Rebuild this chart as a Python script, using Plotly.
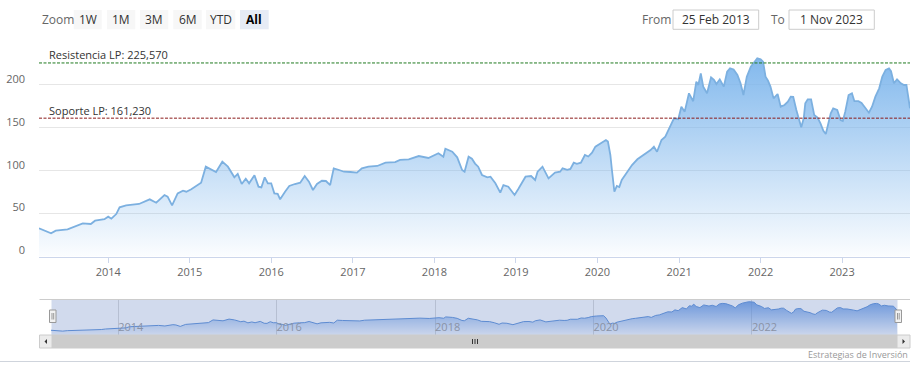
import plotly.graph_objects as go

# ---------------- data ----------------
dates = [
    "2013-02-25", "2013-04-20", "2013-05-11", "2013-07-03", "2013-09-09", "2013-10-15",
    "2013-11-03", "2013-12-15", "2014-01-01", "2014-01-15", "2014-02-06", "2014-02-21",
    "2014-03-22", "2014-04-13", "2014-05-19", "2014-07-06", "2014-08-04", "2014-09-10",
    "2014-09-24", "2014-10-14", "2014-11-08", "2014-12-02", "2014-12-17", "2015-01-08",
    "2015-02-13", "2015-02-21", "2015-03-14", "2015-03-29", "2015-04-29", "2015-05-27",
    "2015-06-21", "2015-07-20", "2015-08-04", "2015-08-22", "2015-09-09", "2015-09-24",
    "2015-10-18", "2015-11-05", "2015-11-18", "2015-12-03", "2015-12-17", "2016-01-01",
    "2016-01-15", "2016-01-30", "2016-02-10", "2016-03-03", "2016-03-22", "2016-04-16",
    "2016-05-10", "2016-05-30", "2016-06-18", "2016-07-06", "2016-07-24", "2016-08-15",
    "2016-09-02", "2016-09-21", "2016-10-07", "2016-10-31", "2016-11-22", "2016-12-21",
    "2017-01-19", "2017-02-10", "2017-03-11", "2017-04-20", "2017-05-27", "2017-07-09",
    "2017-07-31", "2017-09-08", "2017-10-23", "2017-12-05", "2018-01-19", "2018-02-10",
    "2018-02-19", "2018-03-22", "2018-04-13", "2018-05-05", "2018-05-16", "2018-06-03",
    "2018-06-18", "2018-07-02", "2018-07-16", "2018-08-02", "2018-08-26", "2018-09-09",
    "2018-10-01", "2018-10-23", "2018-11-06", "2018-11-28", "2018-12-26", "2019-01-11",
    "2019-02-13", "2019-03-10", "2019-03-28", "2019-04-08", "2019-04-30", "2019-05-27",
    "2019-06-25", "2019-07-18", "2019-07-29", "2019-08-19", "2019-09-02", "2019-09-17",
    "2019-10-01", "2019-10-19", "2019-11-06", "2019-11-21", "2019-12-08", "2019-12-23",
    "2020-01-15", "2020-01-30", "2020-02-08", "2020-02-17", "2020-02-28", "2020-03-06",
    "2020-03-17", "2020-03-28", "2020-04-08", "2020-04-19", "2020-05-04", "2020-05-17",
    "2020-06-04", "2020-06-28", "2020-07-13", "2020-08-04", "2020-08-26", "2020-09-10",
    "2020-09-24", "2020-10-14", "2020-10-31", "2020-11-25", "2020-12-09", "2020-12-28",
    "2021-01-11", "2021-01-26", "2021-02-14", "2021-03-05", "2021-03-19", "2021-03-28",
    "2021-04-08", "2021-04-19", "2021-05-06", "2021-05-24", "2021-06-06", "2021-06-17",
    "2021-07-02", "2021-07-20", "2021-08-04", "2021-08-17", "2021-09-02", "2021-09-19",
    "2021-10-03", "2021-10-16", "2021-10-31", "2021-11-18", "2021-12-06", "2021-12-17",
    "2022-01-01", "2022-01-12", "2022-01-23", "2022-02-03", "2022-02-14", "2022-02-28",
    "2022-03-18", "2022-04-01", "2022-04-18", "2022-05-03", "2022-05-16", "2022-05-27",
    "2022-06-10", "2022-06-21", "2022-07-02", "2022-07-13", "2022-07-20", "2022-07-31",
    "2022-08-15", "2022-08-29", "2022-09-13", "2022-09-26", "2022-10-09", "2022-10-20",
    "2022-10-29", "2022-11-11", "2022-11-22", "2022-12-10", "2022-12-25", "2023-01-04",
    "2023-01-15", "2023-01-30", "2023-02-14", "2023-02-25", "2023-03-15", "2023-03-29",
    "2023-04-16", "2023-05-01", "2023-05-15", "2023-05-30", "2023-06-16", "2023-06-30",
    "2023-07-15", "2023-07-30", "2023-08-08", "2023-08-21", "2023-09-04", "2023-09-21",
    "2023-10-05", "2023-10-16", "2023-10-23", "2023-11-01",
]
prices = [
    32.9, 27.0, 30.1, 31.7, 38.7, 37.9,
    41.7, 43.4, 46.4, 44.1, 49.5, 57.3,
    59.7, 60.0, 61.2, 66.6, 62.7, 71.7,
    69.7, 59.6, 73.6, 76.7, 75.5, 78.3,
    84.5, 86.0, 104.7, 102.4, 98.5, 110.5,
    104.7, 92.3, 96.2, 84.5, 90.7, 85.3,
    94.6, 81.4, 80.6, 92.3, 85.3, 85.3,
    73.6, 73.0, 66.6, 75.5, 82.2, 84.5,
    86.0, 93.8, 87.2, 77.5, 84.5, 88.3,
    88.0, 83.3, 102.8, 100.8, 98.8, 98.5,
    97.7, 102.8, 104.7, 105.5, 109.3, 110.1,
    112.5, 113.3, 117.1, 114.8, 120.3, 116.3,
    125.6, 122.1, 115.6, 100.8, 98.8, 116.3,
    114.0, 108.3, 104.7, 95.0, 92.3, 93.0,
    85.3, 74.4, 83.3, 81.4, 71.7, 78.3,
    93.0, 93.8, 89.2, 98.8, 104.7, 91.1,
    97.7, 98.8, 102.8, 101.0, 102.0, 109.3,
    108.0, 109.3, 118.3, 116.5, 121.0, 128.0,
    131.9, 133.5, 135.8, 134.0, 118.3, 100.8,
    75.5, 82.2, 81.0, 89.2, 95.0, 99.0,
    106.6, 113.3, 116.0, 120.3, 124.1, 128.0,
    122.1, 135.8, 139.6, 153.3, 161.0, 160.0,
    174.6, 168.8, 190.2, 181.0, 203.7, 200.0,
    213.5, 198.0, 190.2, 208.8, 206.0, 201.0,
    206.5, 198.0, 215.4, 219.3, 218.0, 211.5,
    201.9, 188.2, 209.6, 221.3, 227.1, 231.0,
    229.8, 227.1, 209.6, 205.0, 198.0, 184.3,
    189.4, 174.6, 176.6, 180.4, 186.3, 186.0,
    170.7, 159.1, 150.6, 161.0, 178.5, 183.2,
    183.2, 164.9, 162.0, 155.2, 146.6, 142.8,
    153.3, 166.9, 172.7, 170.7, 159.1, 158.0,
    168.8, 188.2, 190.2, 181.0, 181.0, 179.0,
    172.7, 167.6, 174.6, 186.3, 196.0, 209.6,
    217.4, 219.3, 216.0, 201.9, 206.5, 201.9,
    199.9, 200.0, 188.2, 172.7,
]
resistance = 225.57
support = 161.23
resistance_label = "Resistencia LP: 225,570"
support_label = "Soporte LP: 161,230"
y_tick_vals = [0, 50, 100, 150, 200, 250]
y_tick_text = ["0", "50", "100", "150", "200", ""]
zoom_buttons = ["1W", "1M", "3M", "6M", "YTD", "All"]
from_date_text = "25 Feb 2013"
to_date_text = "1 Nov 2023"
credits_text = "Estrategias de Inversión"

# ---------------- layout helpers (pixel -> paper) ----------------
W, H = 919, 374
FONT = "Open Sans"


def fx(p):
    return p / W


def fy(p):
    return 1 - p / H


fig = go.Figure()

fig.add_trace(go.Scatter(
    x=dates, y=prices, mode="lines", xaxis="x", yaxis="y",
    line=dict(color="#7cb0e0", width=1.8),
    fill="tozeroy",
    fillgradient=dict(type="vertical", start=0, stop=max(prices),
                      colorscale=[[0, "rgba(124,181,236,0.03)"], [1, "rgba(124,181,236,0.95)"]]),
    hoverinfo="skip", showlegend=False,
))

fig.add_trace(go.Scatter(
    x=dates, y=prices, mode="lines", xaxis="x2", yaxis="y2",
    line=dict(color="#5a8fd8", width=1),
    fill="tozeroy",
    fillgradient=dict(type="vertical", start=0, stop=max(prices),
                      colorscale=[[0, "rgba(90,145,225,0.05)"], [1, "rgba(90,145,225,0.85)"]]),
    hoverinfo="skip", showlegend=False,
))

shapes = []
annotations = []

# plot lines
for val, col in [(resistance, "#1f7a1f"), (support, "#8b1a1a")]:
    shapes.append(dict(type="line", xref="x domain", yref="y", x0=0, x1=1, y0=val, y1=val,
                       line=dict(color=col, width=1, dash="3px,1.5px"), layer="above"))
for val, txt in [(resistance, resistance_label), (support, support_label)]:
    annotations.append(dict(text=txt, xref="paper", yref="y", x=fx(47), y=val,
                            xanchor="left", yanchor="bottom", yshift=-1.5, showarrow=False,
                            font=dict(family=FONT, size=11, color="#333333")))

# navigator elements
NAV_T, NAV_B = 299, 335
shapes.append(dict(type="rect", xref="paper", yref="paper", x0=fx(51.5), x1=fx(897.5),
                   y0=fy(NAV_B), y1=fy(NAV_T), fillcolor="rgba(102,133,194,0.3)",
                   line=dict(width=0), layer="above"))
shapes.append(dict(type="line", xref="paper", yref="paper", x0=fx(39.5), x1=fx(910),
                   y0=fy(NAV_T + 0.5), y1=fy(NAV_T + 0.5), line=dict(color="#cccccc", width=1)))
# scrollbar
SB_T, SB_B = 335, 348
shapes.append(dict(type="rect", xref="paper", yref="paper", x0=fx(52), x1=fx(897),
                   y0=fy(SB_B), y1=fy(SB_T), fillcolor="#cccccc", line=dict(color="#cccccc", width=1)))
for a, b in [(39.5, 52), (897, 910)]:
    shapes.append(dict(type="rect", xref="paper", yref="paper", x0=fx(a), x1=fx(b),
                       y0=fy(SB_B), y1=fy(SB_T), fillcolor="#ebebeb", line=dict(color="#cccccc", width=1)))
# arrows
cy = (SB_T + SB_B) / 2
shapes.append(dict(type="path", xref="paper", yref="paper",
                   path=f"M {fx(44.5)},{fy(cy)} L {fx(47)},{fy(cy-2.5)} L {fx(47)},{fy(cy+2.5)} Z",
                   fillcolor="#333333", line=dict(width=0)))
shapes.append(dict(type="path", xref="paper", yref="paper",
                   path=f"M {fx(905)},{fy(cy)} L {fx(902.5)},{fy(cy-2.5)} L {fx(902.5)},{fy(cy+2.5)} Z",
                   fillcolor="#333333", line=dict(width=0)))
# grip
for gx in [472.5, 475, 477.5]:
    shapes.append(dict(type="line", xref="paper", yref="paper", x0=fx(gx), x1=fx(gx),
                       y0=fy(cy - 2.5), y1=fy(cy + 2.5), line=dict(color="#333333", width=1)))
# handles
for hx in [49.5, 895]:
    shapes.append(dict(type="rect", xref="paper", yref="paper", x0=fx(hx), x1=fx(hx + 6.5),
                       y0=fy(322.5), y1=fy(310), fillcolor="#f2f2f2",
                       line=dict(color="#999999", width=1), layer="above"))
    for ix in [hx + 2.5, hx + 4.2]:
        shapes.append(dict(type="line", xref="paper", yref="paper", x0=fx(ix), x1=fx(ix),
                           y0=fy(313), y1=fy(319.5), line=dict(color="#999999", width=1), layer="above"))

# bottom separator
shapes.append(dict(type="line", xref="paper", yref="paper", x0=0, x1=fx(910),
                   y0=fy(361.5), y1=fy(361.5), line=dict(color="#cfd4dc", width=1)))

# range selector
annotations.append(dict(text="Zoom", xref="paper", yref="paper", x=fx(40), y=fy(19.5),
                        xanchor="left", yanchor="middle", showarrow=False,
                        font=dict(family=FONT, size=12, color="#666666")))
btn_x = [(73.7, 101.7), (107, 135.3), (140, 168.3), (173.3, 201.7), (206, 235.3), (240, 268.7)]
for label, (a, b) in zip(zoom_buttons, btn_x):
    sel = label == "All"
    shapes.append(dict(type="rect", xref="paper", yref="paper", x0=fx(a), x1=fx(b),
                       y0=fy(29.3), y1=fy(10), fillcolor="#e6ebf5" if sel else "#f7f7f7",
                       line=dict(width=0)))
    annotations.append(dict(text=f"<b>{label}</b>" if sel else label, xref="paper", yref="paper",
                            x=fx((a + b) / 2), y=fy(19.5), xanchor="center", yanchor="middle",
                            showarrow=False,
                            font=dict(family=FONT, size=12, color="#000000" if sel else "#333333")))

# date inputs
annotations.append(dict(text="From", xref="paper", yref="paper", x=fx(640), y=fy(19.5),
                        xanchor="left", yanchor="middle", showarrow=False,
                        font=dict(family=FONT, size=12, color="#666666")))
annotations.append(dict(text="To", xref="paper", yref="paper", x=fx(769), y=fy(19.5),
                        xanchor="left", yanchor="middle", showarrow=False,
                        font=dict(family=FONT, size=12, color="#666666")))
for txt, (a, b) in [(from_date_text, (673, 758.7)), (to_date_text, (789, 874.3))]:
    shapes.append(dict(type="rect", xref="paper", yref="paper", x0=fx(a), x1=fx(b),
                       y0=fy(29.3), y1=fy(10), fillcolor="white", line=dict(color="#cccccc", width=1)))
    annotations.append(dict(text=txt, xref="paper", yref="paper", x=fx((a + b) / 2), y=fy(19.5),
                            xanchor="center", yanchor="middle", showarrow=False,
                            font=dict(family=FONT, size=12, color="#333333")))

annotations.append(dict(text=credits_text, xref="paper", yref="paper", x=fx(910), y=fy(354),
                        xanchor="right", yanchor="middle", showarrow=False,
                        font=dict(family=FONT, size=9, color="#999999")))

fig.update_layout(
    width=W, height=H,
    margin=dict(l=0, r=0, t=0, b=0),
    paper_bgcolor="white", plot_bgcolor="white",
    font=dict(family=FONT, size=11, color="#666666"),
    showlegend=False,
    hovermode=False,
    shapes=shapes,
    annotations=annotations,
    xaxis=dict(domain=[fx(39), fx(910)], anchor="y", type="date",
               range=[dates[0], dates[-1]], showgrid=False,
               showline=True, linecolor="#ccd6eb", linewidth=1,
               ticks="outside", ticklen=5, tickcolor="#ccd6eb",
               tick0="2014-01-01", dtick="M12", tickformat="%Y",
               tickfont=dict(family=FONT, size=11, color="#666666"),
               fixedrange=True),
    yaxis=dict(domain=[fy(256.5), fy(42)], anchor="x", range=[0, 250],
               tickmode="array", tickvals=y_tick_vals, ticktext=y_tick_text,
               showgrid=True, gridcolor="#e6e6e6", gridwidth=1, zeroline=False,
               showline=False, ticks="", ticklabelstandoff=13, ticklabelshift=-6,
               tickfont=dict(family=FONT, size=11, color="#666666"),
               fixedrange=True),
    xaxis2=dict(domain=[fx(51), fx(897)], anchor="y2", type="date",
                range=[dates[0], dates[-1]], showgrid=True, gridcolor="#d8d8d8",
                showline=False, ticks="", tick0="2014-01-01", dtick="M24",
                tickformat="%Y", ticklabelposition="inside right", ticklabelstandoff=-4,
                tickfont=dict(family=FONT, size=11, color="#999999"),
                fixedrange=True),
    yaxis2=dict(domain=[fy(NAV_B), fy(NAV_T)], anchor="x2", range=[0, 250],
                showgrid=False, showticklabels=False, zeroline=False, showline=False,
                fixedrange=True),
)

fig.write_html("out.html")
